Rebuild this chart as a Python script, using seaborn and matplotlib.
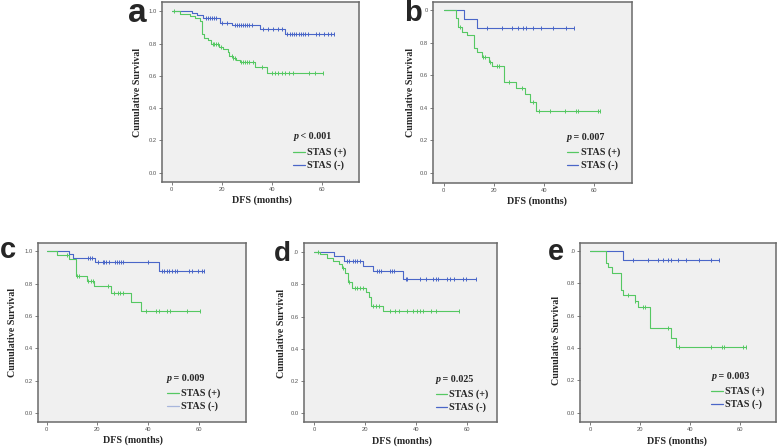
import numpy as np
import pandas as pd
import matplotlib
matplotlib.use("Agg")
import matplotlib.pyplot as plt
import seaborn as sns

# ---------------- data ----------------
# each group: event times, survival after each event, censored times

# panel a
a_pos_t = [3.3, 7.3, 9.3, 11.3, 12.0, 13.0, 14.6, 15.5, 19.0, 20.4, 22.4, 23.0, 24.4, 25.7, 27.0, 33.2, 37.8]
a_pos_s = [0.981, 0.969, 0.958, 0.942, 0.857, 0.832, 0.822, 0.80, 0.78, 0.766, 0.75, 0.72, 0.71, 0.698, 0.684, 0.655, 0.617]
a_pos_c = [1.0, 16.3, 17.0, 17.8, 18.5, 19.7, 23.9, 24.6, 25.2, 27.6, 28.4, 29.2, 30.0, 30.8, 32.4, 35.9,
           39.8, 41.0, 42.4, 43.8, 45.2, 46.6, 48.4, 54.5, 57.0, 60.2]
a_neg_t = [8.0, 10.0, 12.5, 19.3, 23.9, 35.3, 45.1]
a_neg_s = [0.99, 0.975, 0.958, 0.928, 0.912, 0.888, 0.858]
a_neg_c = [13.5, 14.3, 15.1, 16.0, 16.8, 17.6, 19.9, 21.9, 25.2, 26.0, 26.8, 27.6, 28.4, 29.2, 30.0, 30.9, 31.8,
           36.5, 38.5, 40.5, 42.5, 43.8, 46.0, 46.9, 47.8, 48.7, 49.6, 50.5, 51.4, 52.3, 53.2, 54.1,
           57.3, 58.6, 60.6, 62.0, 63.3, 64.6]

# panel b
b_pos_t = [4.9, 5.8, 7.2, 9.2, 12.2, 13.1, 15.1, 18.2, 19.4, 24.1, 28.8, 32.4, 34.4, 36.8]
b_pos_s = [0.95, 0.90, 0.868, 0.848, 0.766, 0.741, 0.714, 0.684, 0.657, 0.56, 0.52, 0.483, 0.437, 0.38]
b_pos_c = [6.5, 15.8, 16.6, 18.6, 21.4, 22.2, 26.2, 31.2, 35.4, 38.1, 42.4, 48.5, 52.7, 53.4, 61.4, 62.3]
b_neg_t = [8.1, 13.1]
b_neg_s = [0.944, 0.889]
b_neg_c = [17.1, 23.4, 27.3, 29.5, 31.7, 32.7, 35.7, 38.7, 43.7, 48.7, 51.8]

# panel c
c_pos_t = [3.9, 8.9, 11.5, 16.0, 18.6, 25.3, 33.0, 37.0]
c_pos_s = [0.975, 0.951, 0.848, 0.819, 0.784, 0.745, 0.689, 0.631]
c_pos_c = [8.2, 12.0, 12.8, 16.4, 17.4, 18.2, 24.0, 26.5, 28.0, 29.0, 30.0, 39.2, 43.1, 44.1, 47.4, 48.4, 55.3, 60.2]
c_neg_t = [8.9, 10.2, 19.2, 44.3]
c_neg_s = [0.983, 0.96, 0.935, 0.88]
c_neg_c = [16.1, 17.0, 17.9, 20.1, 22.0, 22.7, 23.3, 24.6, 26.9, 27.6, 28.5, 29.1, 30.2, 40.0,
           45.3, 46.3, 47.3, 48.3, 49.3, 50.3, 51.4, 56.0, 57.0, 59.7, 61.0, 61.9]

# panel d
d_pos_t = [2.4, 5.2, 7.3, 10.0, 10.9, 12.2, 13.5, 15.0, 20.4, 21.5, 22.4, 27.0]
d_pos_s = [0.988, 0.962, 0.942, 0.925, 0.90, 0.868, 0.816, 0.775, 0.75, 0.72, 0.668, 0.636]
d_pos_c = [1.7, 11.2, 13.9, 16.1, 17.0, 18.0, 19.2, 23.3, 24.4, 25.5, 29.7, 32.0, 33.2, 36.6, 39.0,
           40.6, 41.8, 43.0, 46.0, 47.8, 56.9]
d_neg_t = [8.0, 11.9, 19.1, 23.3, 35.1]
d_neg_s = [0.977, 0.947, 0.914, 0.881, 0.833]
d_neg_c = [13.1, 13.9, 15.2, 16.1, 17.0, 18.0, 24.7, 25.6, 26.3, 29.9, 30.8, 31.4, 36.0, 36.7, 41.7,
           43.9, 46.9, 47.8, 48.6, 52.2, 53.5, 55.0, 58.7, 59.6, 63.7]

# panel e
e_pos_t = [6.3, 7.1, 8.9, 12.2, 13.3, 18.0, 19.0, 23.9, 32.3, 34.2]
e_pos_s = [0.928, 0.90, 0.862, 0.759, 0.728, 0.691, 0.652, 0.522, 0.464, 0.404]
e_pos_c = [15.0, 18.0, 21.3, 21.9, 31.3, 35.3, 48.3, 52.7, 53.4, 61.2, 62.1]
e_neg_t = [13.3]
e_neg_s = [0.944]
e_neg_c = [17.3, 23.3, 27.3, 29.2, 31.3, 32.3, 35.2, 38.3, 43.5, 48.3, 51.6]

panel_letters = ["a", "b", "c", "d", "e"]
p_labels = ["< 0.001", "= 0.007", "= 0.009", "= 0.025", "= 0.003"]
group_labels = ["STAS (+)", "STAS (-)"]
y_ticks = [0, 0.2, 0.4, 0.6, 0.8, 1.0]
x_ticks = [0, 20, 40, 60]
# top tick label is partly hidden behind the panel letter in b, d, e
y_top_labels = ["1.0", "0", "1.0", ".0", ".0"]

# ---------------- layout ----------------
GREEN = "#55c862"
BLUE = "#4a66c8"
BG = "#f0f0f0"
SERIF = "Liberation Serif"
SANS = "Liberation Sans"

W, H = 778, 448
# axes box in pixels: left, top, right, bottom
boxes = [(162.3, 1.7, 358.7, 182.0), (433.3, 1.7, 632.0, 182.7), (37.7, 242.7, 245.7, 421.7),
         (303.7, 242.7, 497.3, 422.0), (580.0, 242.7, 776.3, 421.7)]
xlims = [(-3.7, 74.4), (-4.1, 75.0), (-3.5, 78.3), (-4.05, 72.0), (-4.0, 74.3)]
ylims = [(-0.058, 1.059), (-0.062, 1.053), (-0.052, 1.053), (-0.054, 1.058), (-0.056, 1.051)]
xlab_pos = [(0.508, -0.10), (0.522, -0.101), (0.458, -0.102), (0.508, -0.106), (0.494, -0.107)]
ylab_pos = [(-0.124, 0.494), (-0.117, 0.496), (-0.119, 0.496), (-0.117, 0.496), (-0.122, 0.456)]
leg_pos = [(0.667, 0.25), (0.671, 0.252), (0.62, 0.244), (0.682, 0.238), (0.669, 0.255)]
letter_pos = [(137, 14, 24), (413, 13, 21), (8, 250, 21), (282, 254, 20), (556, 252, 21)]
leg_colors = [(GREEN, BLUE), (GREEN, BLUE), (GREEN, "#a8b6dc"), (GREEN, BLUE), (GREEN, BLUE)]


def km_frame(ev_t, ev_s, cens):
    end = max(max(cens), max(ev_t))
    return pd.DataFrame({"t": np.r_[0.0, ev_t, end], "s": np.r_[1.0, ev_s, ev_s[-1]]})


def cens_frame(ev_t, ev_s, cens):
    idx = np.searchsorted(ev_t, cens, side="right")
    return pd.DataFrame({"t": cens, "s": np.r_[1.0, ev_s][idx]})


sns.set_theme(style="ticks")
plt.rcParams["font.family"] = [SANS, "DejaVu Sans"]

fig = plt.figure(figsize=(W / 100, H / 100), dpi=100)

groups = [
    ((a_pos_t, a_pos_s, a_pos_c), (a_neg_t, a_neg_s, a_neg_c)),
    ((b_pos_t, b_pos_s, b_pos_c), (b_neg_t, b_neg_s, b_neg_c)),
    ((c_pos_t, c_pos_s, c_pos_c), (c_neg_t, c_neg_s, c_neg_c)),
    ((d_pos_t, d_pos_s, d_pos_c), (d_neg_t, d_neg_s, d_neg_c)),
    ((e_pos_t, e_pos_s, e_pos_c), (e_neg_t, e_neg_s, e_neg_c)),
]

for i, (pos, neg) in enumerate(groups):
    l, t, r, b = boxes[i]
    ax = fig.add_axes([l / W, 1 - b / H, (r - l) / W, (b - t) / H])
    ax.set_facecolor(BG)

    for (ev_t, ev_s, cens), col in [(neg, BLUE), (pos, GREEN)]:
        sns.lineplot(data=km_frame(ev_t, ev_s, cens), x="t", y="s", ax=ax, color=col,
                     drawstyle="steps-post", estimator=None, sort=False, lw=0.8)
        sns.scatterplot(data=cens_frame(ev_t, ev_s, cens), x="t", y="s", ax=ax, color=col,
                        marker="|", s=12, linewidth=0.7, zorder=3)

    ax.set_xlim(*xlims[i])
    ax.set_ylim(*ylims[i])
    ax.set_xticks(x_ticks)
    ax.set_yticks(y_ticks)
    ax.set_yticklabels([f"{v:.1f}" for v in y_ticks[:-1]] + [y_top_labels[i]])
    ax.tick_params(labelsize=4.2, labelcolor="#555555", length=2.2, width=0.6, color="#666666", pad=1.5)
    for sp in ax.spines.values():
        sp.set_color("#6a6a6a")
        sp.set_linewidth(1.1)

    ax.set_xlabel("DFS (months)", family=SERIF, weight="bold", fontsize=7.2, va="center")
    ax.set_ylabel("Cumulative Survival", family=SERIF, weight="bold", fontsize=7.2, va="center")
    ax.xaxis.set_label_coords(*xlab_pos[i])
    ax.yaxis.set_label_coords(*ylab_pos[i])

    # legend block
    lx, ly = leg_pos[i]
    ax.annotate("p", (lx, ly), xycoords="axes fraction", family=SERIF, weight="bold",
                style="italic", fontsize=7.2, va="center", ha="left")
    ax.annotate(" " + p_labels[i], (lx, ly), xycoords="axes fraction", xytext=(3.4, 0),
                textcoords="offset points", family=SERIF, weight="bold", fontsize=7.2,
                va="center", ha="left")
    for k, (lab, col) in enumerate(zip(group_labels, leg_colors[i])):
        yy = ly - 0.082 - 0.073 * k
        ax.plot([lx, lx + 0.058], [yy, yy], transform=ax.transAxes, color=col, lw=0.9)
        ax.text(lx + 0.07, yy, lab, transform=ax.transAxes, family=SERIF, weight="bold",
                fontsize=7.2, va="center", ha="left")

for letter, (px, py, fs) in zip(panel_letters, letter_pos):
    fig.text(px / W, 1 - py / H, letter, fontsize=fs, weight="bold", family=SANS,
             ha="center", va="center", zorder=10)

fig.savefig("out.png", dpi=100)
